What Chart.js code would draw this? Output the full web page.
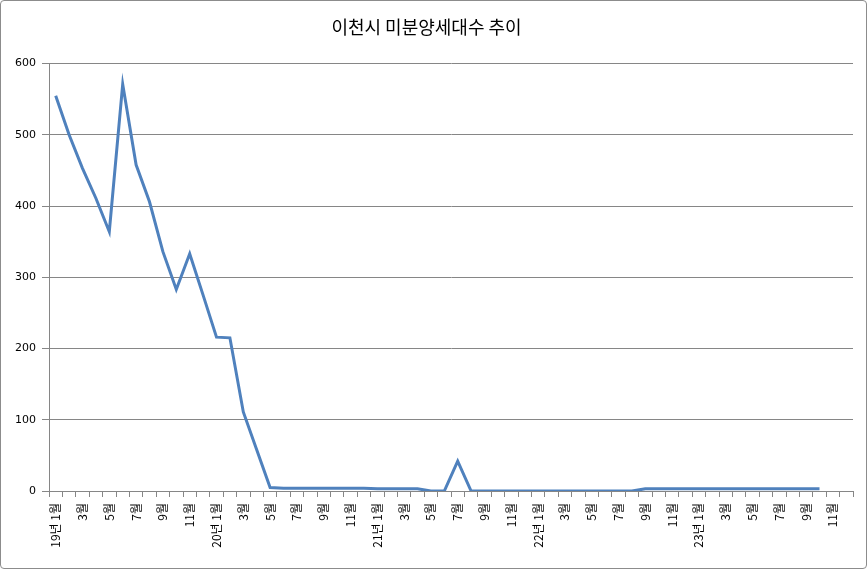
<!DOCTYPE html>
<html>
<head>
<meta charset="utf-8">
<script src="https://cdn.jsdelivr.net/npm/chart.js@4"></script>
<style>
  body { margin: 0; background: #fff; }
  #box { position: absolute; left: 0; top: 0; width: 865px; height: 567px; border: 1px solid #8c8c8c; border-radius: 4px; }
  #wrap { position: absolute; left: 0; top: 0; width: 867px; height: 571px; }
</style>
</head>
<body>
<div id="box"></div>
<div id="wrap"><canvas id="grafico" width="867" height="571"></canvas></div>
<script>
// 연도와 월 (19년 1월 ~ 23년 12월)
const anos = ['19', '20', '21', '22', '23'];
const meses = [1, 2, 3, 4, 5, 6, 7, 8, 9, 10, 11, 12];

// 미분양 세대수
const valores = [
    555, 500, 453, 411, 364, 571, 458, 406, 336, 283, 333, 275,
    216, 215, 111, 58, 5, 4, 4, 4, 4, 4, 4, 4,
    3, 3, 3, 3, 0, 0, 42, 0, 0, 0, 0, 0,
    0, 0, 0, 0, 0, 0, 0, 0, 3, 3, 3, 3,
    3, 3, 3, 3, 3, 3, 3, 3, 3, 3, null, null
];

const yTicks = [0, 100, 200, 300, 400, 500, 600];

// 카테고리 라벨 만들기
const categorias = [];
anos.forEach(a => {
    meses.forEach(m => {
        categorias.push(m === 1 ? a + '년 ' + m + '월' : m + '월');
    });
});

const gris = '#868686';

const ctx = document.getElementById('grafico').getContext('2d');
const grafico = new Chart(ctx, {
    type: 'line',
    data: {
        labels: categorias,
        datasets: [{
            label: '미분양세대수',
            data: valores,
            borderColor: '#4f81bd',
            borderWidth: 3,
            pointRadius: 0,
            tension: 0,
            spanGaps: false
        }]
    },
    options: {
        responsive: false,
        animation: false,
        layout: { padding: { left: 0, right: 14, top: 0, bottom: 10 } },
        plugins: {
            legend: { display: false },
            tooltip: { enabled: false },
            title: {
                display: true,
                text: '이천시 미분양세대수 추이',
                color: '#000',
                font: { family: '"Noto Sans CJK KR", sans-serif', size: 18, weight: 'normal' },
                padding: { top: 16, bottom: 26 }
            }
        },
        scales: {
            x: {
                offset: true,
                grid: {
                    offset: true,
                    drawOnChartArea: false,
                    color: gris,
                    tickLength: 6
                },
                border: { color: gris },
                ticks: {
                    autoSkip: false,
                    minRotation: 90,
                    maxRotation: 90,
                    padding: 6,
                    color: '#000',
                    font: { family: '"Noto Sans CJK KR", sans-serif', size: 12 },
                    callback: function(v, i) {
                        return i % 2 === 0 ? categorias[i] : '';
                    }
                },
                afterFit: function(s) { s.height = 70; }
            },
            y: {
                min: 0,
                max: 600,
                afterBuildTicks: function(s) {
                    s.ticks = yTicks.map(v => ({ value: v }));
                },
                grid: { color: gris, tickLength: 7 },
                border: { color: gris },
                ticks: {
                    color: '#000',
                    padding: 6,
                    font: { family: '"DejaVu Sans", sans-serif', size: 11 }
                },
                afterFit: function(s) { s.width = 49; }
            }
        }
    }
});
</script>
</body>
</html>
